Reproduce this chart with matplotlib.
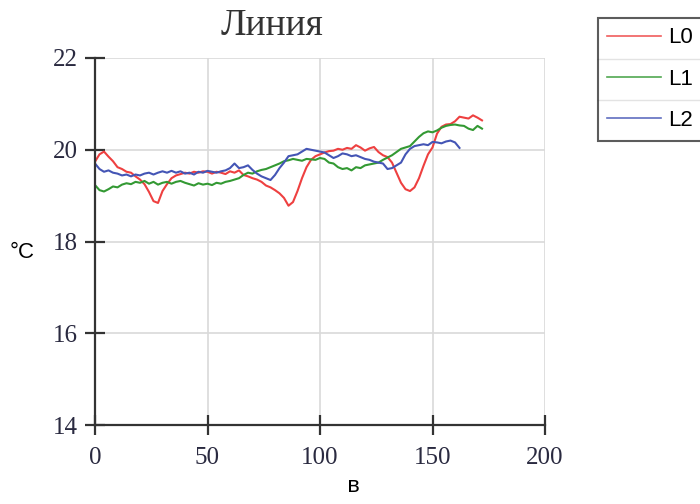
import numpy as np
import matplotlib
matplotlib.use("Agg")
import matplotlib.pyplot as plt
from matplotlib.lines import Line2D

# sampled every 2 units along x
x_step = 2
l0 = [19.74, 19.90, 19.96, 19.85, 19.75, 19.62, 19.58, 19.52, 19.50, 19.42,
      19.35, 19.25, 19.08, 18.88, 18.84, 19.10, 19.25, 19.38, 19.44, 19.47,
      19.50, 19.48, 19.52, 19.50, 19.53, 19.52, 19.48, 19.52, 19.50, 19.47,
      19.53, 19.50, 19.55, 19.45, 19.42, 19.38, 19.35, 19.30, 19.22, 19.18,
      19.12, 19.05, 18.95, 18.78, 18.86, 19.10, 19.38, 19.62, 19.78, 19.86,
      19.90, 19.94, 19.97, 19.98, 20.02, 20.00, 20.04, 20.02, 20.10, 20.05,
      19.98, 20.03, 20.06, 19.95, 19.88, 19.84, 19.72, 19.50, 19.28, 19.14,
      19.10, 19.18, 19.38, 19.65, 19.90, 20.05, 20.35, 20.50, 20.55, 20.56,
      20.62, 20.72, 20.70, 20.68, 20.75, 20.70, 20.64]
l1 = [19.23, 19.12, 19.09, 19.14, 19.20, 19.18, 19.24, 19.27, 19.25, 19.30,
      19.28, 19.32, 19.26, 19.30, 19.24, 19.28, 19.30, 19.26, 19.30, 19.32,
      19.28, 19.25, 19.22, 19.27, 19.24, 19.26, 19.23, 19.28, 19.26, 19.30,
      19.32, 19.35, 19.38, 19.45, 19.50, 19.48, 19.53, 19.56, 19.58, 19.62,
      19.66, 19.70, 19.75, 19.77, 19.80, 19.78, 19.76, 19.80, 19.79, 19.78,
      19.82, 19.80, 19.72, 19.70, 19.62, 19.58, 19.60, 19.55, 19.62, 19.60,
      19.66, 19.68, 19.70, 19.72, 19.78, 19.83, 19.88, 19.95, 20.02, 20.05,
      20.08, 20.18, 20.28, 20.36, 20.40, 20.38, 20.42, 20.48, 20.52, 20.54,
      20.55, 20.53, 20.52, 20.46, 20.43, 20.52, 20.46]
l2 = [19.70, 19.58, 19.52, 19.55, 19.50, 19.48, 19.44, 19.46, 19.42, 19.46,
      19.44, 19.48, 19.50, 19.46, 19.50, 19.53, 19.50, 19.54, 19.50, 19.53,
      19.48, 19.50, 19.46, 19.52, 19.50, 19.54, 19.52, 19.50, 19.53, 19.55,
      19.60, 19.70, 19.60, 19.62, 19.66, 19.56, 19.48, 19.42, 19.38, 19.34,
      19.45, 19.60, 19.72, 19.86, 19.88, 19.90, 19.96, 20.02, 20.00, 19.98,
      19.96, 19.94, 19.88, 19.82, 19.86, 19.92, 19.90, 19.86, 19.88, 19.84,
      19.80, 19.78, 19.74, 19.72, 19.70, 19.58, 19.60, 19.66, 19.72, 19.90,
      20.02, 20.08, 20.10, 20.12, 20.10, 20.17, 20.16, 20.14, 20.18, 20.20,
      20.16, 20.04]
labels = ["L0", "L1", "L2"]
colors = ["#ee4040", "#339933", "#4455b5"]

fig = plt.figure(figsize=(7, 5.04), dpi=100)
ax = fig.add_axes([95 / 700, 79 / 504, 450 / 700, 367 / 504])

handles = []
for vals, lab, col in zip([l0, l1, l2], labels, colors):
    xs = np.arange(len(vals)) * x_step
    ax.plot(xs, vals, color=col, lw=1.5)
    handles.append(Line2D([], [], color=col, lw=1.2, alpha=0.85, label=lab))

ax.set_xlim(0, 200)
ax.set_ylim(14, 22)
ax.set_xticks([0, 50, 100, 150, 200])
ax.set_yticks([14, 16, 18, 20, 22])
ax.grid(True, color="#d9d9d9", lw=1.2)
ax.set_axisbelow(True)
for s in ["top", "right"]:
    ax.spines[s].set_visible(False)
for s in ["left", "bottom"]:
    ax.spines[s].set_color("#333333")
    ax.spines[s].set_linewidth(1.6)
ax.tick_params(direction="inout", length=14, width=1.6, color="#333333",
               labelsize=18, labelcolor="#2a2a40")
ax.tick_params(axis="x", pad=9)
ax.tick_params(axis="y", pad=5)
for t in ax.get_xticklabels() + ax.get_yticklabels():
    t.set_family("Liberation Serif")

ax.set_xlabel("в", family="Liberation Mono", fontsize=16)
ax.xaxis.set_label_coords((354 - 95) / 450, -0.14)

fig.text(22 / 700, 1 - 253 / 504, "°C", family="Liberation Sans", fontsize=16,
         ha="center", va="center")
fig.text(272 / 700, 1 - 26 / 504, "Линия", family="Liberation Serif",
         fontsize=27, color="#333333", ha="center", va="center")

leg = fig.legend(handles=handles, loc="upper left",
                 bbox_to_anchor=(598 / 700, 1 - 18 / 504),
                 prop={"family": "Liberation Sans", "size": 16},
                 frameon=True, fancybox=False, edgecolor="#333333",
                 borderaxespad=0, borderpad=0.42, labelspacing=0.92,
                 handlelength=2.4, handletextpad=0.35)
leg.get_frame().set_linewidth(1.5)

fig.canvas.draw()
r = fig.canvas.get_renderer()
fb = leg.get_frame().get_window_extent(r)
tb = [t.get_window_extent(r) for t in leg.get_texts()]
for a, b in zip(tb[:-1], tb[1:]):
    ymid = (a.y0 + b.y1) / 2
    fig.add_artist(Line2D([fb.x0 / 700, fb.x1 / 700], [ymid / 504] * 2,
                          transform=fig.transFigure, color="#777777", lw=1.0))

fig.savefig("out.png", dpi=100)
